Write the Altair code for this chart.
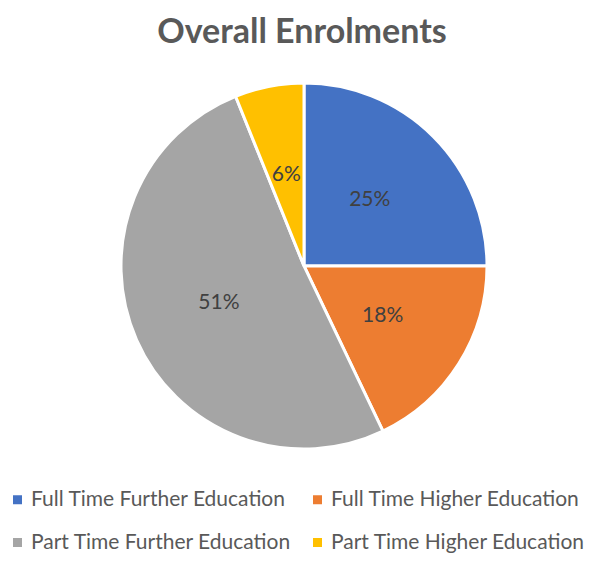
import altair as alt
import pandas as pd

categories = ["Full Time Further Education", "Full Time Higher Education",
              "Part Time Further Education", "Part Time Higher Education"]
values = [25.0, 17.9, 51.0, 6.1]
colors = ["#4472C4", "#ED7D31", "#A5A5A5", "#FFC000"]

total = sum(values)
df = pd.DataFrame({
    "category": categories,
    "value": values,
    "order": list(range(len(categories))),
    "label": [f"{round(v / total * 100)}%" for v in values],
})

FONT = "Lato"
CX, CY = 296, 198

base = alt.Chart(df).encode(
    theta=alt.Theta("value:Q", stack=True),
    order=alt.Order("order:Q"),
    x=alt.value(CX),
    y=alt.value(CY),
)

pie = base.mark_arc(radius=183, stroke="white", strokeWidth=3).encode(
    color=alt.Color(
        "category:N",
        scale=alt.Scale(domain=categories, range=colors),
        sort=categories,
        legend=alt.Legend(
            title=None,
            orient="none",
            direction="horizontal",
            legendX=-1,
            legendY=421,
            columns=2,
            columnPadding=15,
            rowPadding=21,
            symbolType="square",
            symbolSize=81,
            symbolStrokeWidth=0,
            labelFontSize=21,
            labelFont=FONT,
            labelColor="#595959",
            labelOffset=3,
            labelLimit=400,
        ),
    )
)

labels = base.mark_text(radius=93, fontSize=21, font=FONT, color="#404040").encode(
    text="label:N"
)

chart = alt.layer(pie, labels).properties(
    width=582,
    height=485,
    padding={"left": 0, "top": 60, "right": 0, "bottom": 0},
    autosize=alt.AutoSizeParams(type="none"),
    title=alt.TitleParams(
        "Overall Enrolments",
        font=FONT,
        fontSize=34,
        fontWeight="bold",
        color="#595959",
        anchor="middle",
        offset=18,
        dx=3,
    ),
).configure_view(stroke=None)

chart.save("out.html", embed_options={"renderer": "svg", "actions": False})
